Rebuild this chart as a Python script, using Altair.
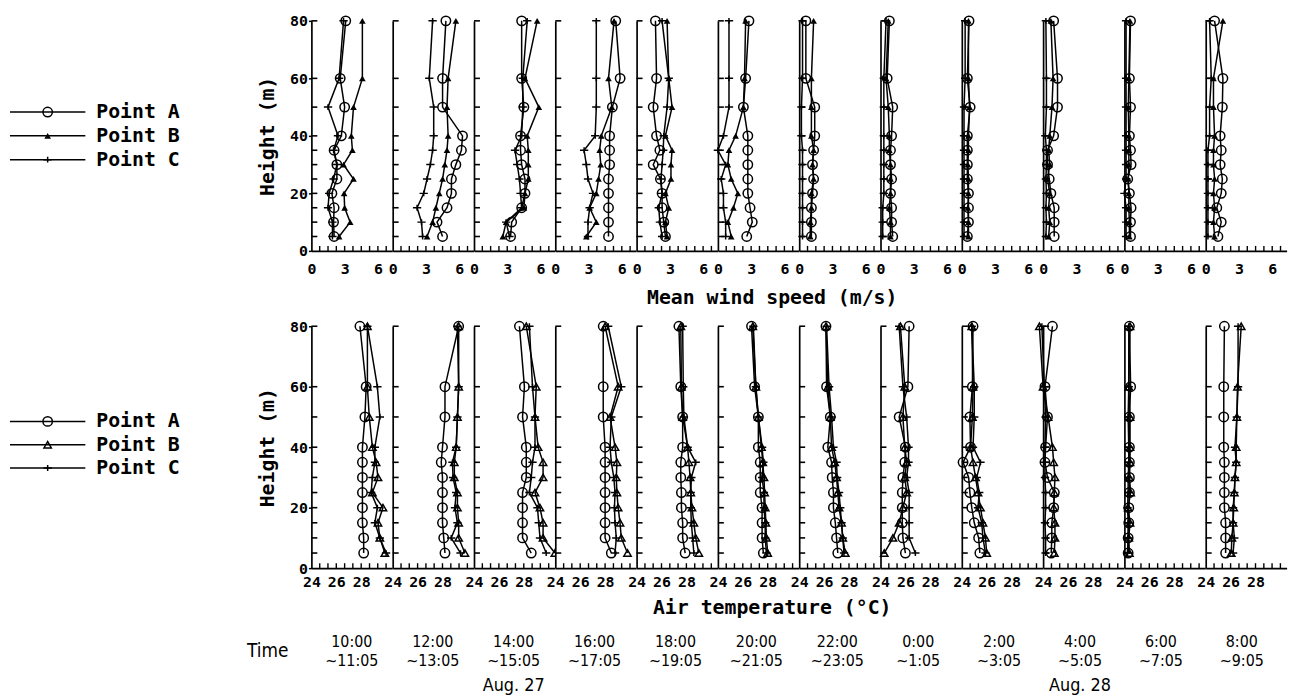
import altair as alt
import pandas as pd

FONT = "DejaVu Sans Mono"
TFONT = "Liberation Sans Narrow, DejaVu Sans Condensed, Liberation Sans, sans-serif"

heights = [5, 10, 15, 20, 25, 30, 35, 40, 50, 60, 80]
tick_heights = [5, 10, 15, 20, 25, 30, 35, 40, 50, 60, 80]
times = ["10:00", "12:00", "14:00", "16:00", "18:00", "20:00",
         "22:00", "0:00", "2:00", "4:00", "6:00", "8:00"]
ends = ["~11:05", "~13:05", "~15:05", "~17:05", "~19:05", "~21:05",
        "~23:05", "~1:05", "~3:05", "~5:05", "~7:05", "~9:05"]
date_at = ["14:00", "4:00"]
dates = ["Aug. 27", "Aug. 28"]
points = ["Point A", "Point B", "Point C"]

wind_labels = [0, 3, 6]
wind_minor = [0.75, 1.5, 2.25, 3, 3.75, 4.5, 5.25, 6, 6.75]
temp_labels = [24, 26, 28]
temp_minor = [24.67, 25.33, 26, 26.67, 27.33, 28, 28.67, 29.33, 30]

# mean wind speed (m/s), one list per time, heights 5..80 m
wind_a = [
    [2.05, 2.0, 2.05, 1.85, 2.3, 2.3, 2.05, 2.7, 3.0, 2.6, 3.1],
    [4.5, 4.0, 4.9, 5.3, 5.3, 5.7, 6.2, 6.3, 4.5, 4.5, 4.8],
    [3.3, 3.4, 4.3, 4.6, 4.6, 4.3, 4.2, 4.2, 4.5, 4.3, 4.3],
    [4.8, 4.8, 4.8, 4.8, 4.8, 4.9, 4.9, 4.9, 5.15, 5.85, 5.45],
    [2.6, 2.45, 2.3, 2.3, 2.15, 1.5, 2.1, 1.8, 1.5, 1.8, 1.7],
    [2.6, 3.1, 2.9, 2.7, 2.7, 2.7, 2.7, 2.7, 2.3, 2.5, 2.8],
    [1.1, 1.1, 1.1, 1.2, 1.3, 1.2, 1.3, 1.4, 1.4, 0.6, 0.6],
    [1.1, 1.0, 1.0, 0.9, 1.0, 0.9, 0.9, 1.0, 1.1, 0.6, 0.8],
    [0.5, 0.6, 0.6, 0.6, 0.5, 0.5, 0.5, 0.5, 0.75, 0.5, 0.65],
    [1.0, 1.0, 1.0, 0.7, 0.55, 0.4, 0.4, 0.95, 1.3, 1.3, 0.95],
    [0.55, 0.55, 0.6, 0.45, 0.3, 0.6, 0.55, 0.45, 0.55, 0.45, 0.55],
    [1.1, 1.4, 1.0, 1.4, 1.5, 1.3, 1.4, 1.3, 1.5, 1.55, 0.8],
]
wind_b = [
    [2.5, 3.5, 3.0, 2.95, 3.8, 2.9, 3.7, 3.6, 3.8, 4.6, 4.6],
    [3.1, 3.6, 3.9, 4.2, 4.5, 4.7, 4.9, 5.0, 4.9, 5.0, 5.7],
    [2.6, 2.9, 4.5, 4.6, 4.9, 4.9, 4.9, 4.8, 5.85, 4.6, 5.7],
    [2.8, 3.7, 3.1, 3.7, 3.9, 4.1, 4.0, 4.15, 5.1, 4.8, 5.3],
    [2.75, 2.6, 2.9, 2.6, 3.1, 3.1, 3.2, 2.6, 3.2, 2.9, 2.75],
    [1.2, 0.9, 1.4, 1.8, 1.2, 0.9, 1.0, 1.6, 2.3, 2.4, 2.5],
    [1.0, 1.0, 1.1, 1.1, 1.3, 1.2, 1.3, 1.1, 1.1, 1.1, 1.3],
    [0.9, 0.9, 0.8, 0.9, 0.9, 0.9, 0.8, 0.8, 0.7, 0.5, 0.7],
    [0.6, 0.6, 0.55, 0.6, 0.6, 0.55, 0.6, 0.6, 0.7, 0.6, 0.6],
    [0.5, 0.6, 0.5, 0.6, 0.4, 0.6, 0.5, 0.6, 0.8, 0.9, 0.7],
    [0.45, 0.45, 0.4, 0.4, 0.35, 0.4, 0.4, 0.4, 0.35, 0.4, 0.5],
    [0.8, 0.7, 0.8, 0.7, 0.8, 0.7, 0.7, 0.8, 0.7, 0.7, 1.55],
]
wind_c = [
    [1.9, 1.9, 1.5, 1.6, 2.0, 2.3, 2.0, 2.4, 1.5, 2.5, 2.9],
    [2.7, 2.6, 2.2, 2.8, 3.1, 3.4, 3.6, 3.7, 3.7, 3.3, 3.6],
    [3.2, 2.9, 4.3, 4.2, 4.1, 3.9, 3.7, 4.3, 4.4, 4.4, 4.8],
    [2.95, 2.95, 3.1, 3.4, 2.95, 2.8, 2.6, 3.6, 3.7, 3.7, 3.7],
    [2.3, 2.1, 2.0, 2.3, 2.2, 2.3, 2.4, 2.45, 2.75, 2.9, 2.3],
    [0.7, 0.7, 0.5, 0.5, 0.3, 0.7, 0.0, 0.5, 1.0, 1.0, 1.0],
    [0.3, 0.3, 0.3, 0.3, 0.3, 0.3, 0.3, 0.2, 0.2, 0.3, 0.3],
    [0.2, 0.2, 0.2, 0.3, 0.3, 0.3, 0.3, 0.3, 0.3, 0.3, 0.5],
    [0.2, 0.2, 0.2, 0.2, 0.2, 0.2, 0.2, 0.2, 0.2, 0.3, 0.3],
    [0.25, 0.3, 0.25, 0.3, 0.25, 0.3, 0.3, 0.2, 0.3, 0.3, 0.25],
    [0.15, 0.15, 0.15, 0.0, 0.15, 0.15, 0.15, 0.15, 0.15, 0.15, 0.15],
    [0.2, 0.2, 0.2, 0.2, 0.2, 0.2, 0.2, 0.35, 0.35, 0.5, 0.35],
]

# air temperature (deg C), one list per time, heights 5..80 m
temp_a = [
    [28.2, 28.2, 28.1, 28.1, 28.1, 28.1, 28.1, 28.1, 28.3, 28.4, 27.9],
    [28.2, 28.1, 28.0, 28.0, 28.0, 28.0, 27.9, 28.0, 28.2, 28.2, 29.3],
    [28.6, 27.9, 27.9, 27.9, 27.9, 28.2, 28.2, 28.2, 27.9, 28.05, 27.65],
    [28.5, 28.0, 28.0, 28.0, 28.0, 28.0, 28.0, 28.0, 27.85, 27.85, 27.85],
    [27.9, 27.7, 27.7, 27.6, 27.6, 27.55, 27.55, 27.7, 27.7, 27.55, 27.4],
    [27.65, 27.55, 27.55, 27.55, 27.4, 27.4, 27.4, 27.25, 27.25, 26.95, 26.7],
    [27.1, 27.0, 26.9, 26.75, 26.75, 26.65, 26.6, 26.3, 26.5, 26.2, 26.15],
    [26.0, 25.8, 25.75, 25.75, 25.75, 25.8, 25.95, 26.0, 25.5, 26.2, 26.3],
    [25.45, 25.35, 25.0, 24.8, 24.65, 24.55, 24.1, 24.7, 24.65, 24.85, 24.9],
    [24.65, 24.7, 24.7, 24.85, 24.9, 24.35, 24.15, 24.2, 24.35, 24.15, 24.75],
    [24.3, 24.3, 24.35, 24.35, 24.4, 24.4, 24.4, 24.4, 24.4, 24.5, 24.4],
    [25.6, 25.6, 25.6, 25.5, 25.5, 25.5, 25.5, 25.45, 25.45, 25.45, 25.5],
]
temp_b = [
    [29.9, 29.5, 29.35, 29.75, 28.9, 29.35, 29.2, 28.9, 28.65, 28.5, 28.5],
    [29.8, 29.3, 29.3, 29.2, 29.2, 28.95, 28.95, 29.1, 29.2, 29.3, 29.3],
    [30.5, 29.55, 29.55, 29.3, 28.9, 29.55, 29.55, 29.15, 28.9, 29.0, 28.2],
    [29.8, 29.3, 29.2, 29.05, 28.95, 28.9, 28.95, 28.8, 28.4, 29.05, 28.0],
    [29.0, 28.75, 28.6, 28.45, 28.35, 28.3, 28.2, 28.1, 27.7, 27.6, 27.55],
    [28.0, 27.9, 27.85, 27.8, 27.75, 27.7, 27.6, 27.5, 27.25, 27.05, 26.8],
    [27.7, 27.5, 27.4, 27.2, 27.1, 27.0, 26.85, 26.6, 26.5, 26.3, 26.15],
    [24.3, 25.0, 25.5, 25.8, 26.1, 25.95, 26.1, 25.95, 25.8, 25.95, 25.6],
    [26.0, 25.9, 25.7, 25.5, 25.3, 25.1, 24.9, 24.7, 24.85, 24.9, 24.8],
    [24.9, 24.95, 24.95, 24.85, 24.9, 24.95, 24.85, 24.75, 24.4, 24.0, 23.7],
    [24.4, 24.35, 24.45, 24.3, 24.5, 24.4, 24.45, 24.45, 24.45, 24.35, 24.45],
    [26.05, 26.1, 26.2, 26.25, 26.3, 26.35, 26.45, 26.45, 26.5, 26.55, 26.85],
]
temp_c = [
    [30.0, 29.5, 29.1, 29.3, 28.8, 28.9, 29.1, 29.1, 29.5, 29.3, 28.5],
    [29.45, 28.7, 29.2, 29.0, 29.1, 28.85, 28.8, 29.1, 29.2, 29.3, 29.2],
    [29.8, 29.3, 29.2, 29.1, 28.45, 28.6, 28.7, 28.9, 28.9, 28.7, 28.45],
    [28.8, 28.9, 28.8, 28.75, 28.8, 28.7, 28.5, 28.4, 28.5, 29.3, 28.25],
    [28.6, 28.5, 28.4, 28.35, 28.35, 28.4, 28.75, 28.1, 27.8, 27.75, 27.7],
    [27.9, 27.8, 27.8, 27.7, 27.7, 27.55, 27.65, 27.55, 27.25, 27.05, 26.85],
    [27.6, 27.5, 27.4, 27.3, 27.2, 27.05, 27.0, 26.75, 26.6, 26.4, 26.2],
    [26.8, 26.3, 26.3, 26.3, 26.3, 26.1, 26.25, 26.25, 26.1, 25.8, 25.5],
    [25.9, 25.7, 25.6, 25.3, 25.4, 25.2, 25.5, 24.9, 25.0, 25.0, 24.8],
    [24.2, 24.2, 24.15, 24.2, 24.2, 24.15, 24.15, 24.15, 24.2, 24.1, 23.9],
    [24.25, 24.3, 24.3, 24.25, 24.3, 24.3, 24.35, 24.35, 24.3, 24.35, 24.35],
    [26.2, 26.3, 26.2, 26.2, 26.3, 26.35, 26.45, 26.35, 26.5, 26.6, 26.6],
]

records = []
for ti, t in enumerate(times):
    series = [(points[0], wind_a[ti], temp_a[ti]),
              (points[1], wind_b[ti], temp_b[ti]),
              (points[2], wind_c[ti], temp_c[ti])]
    for pname, wl, tl in series:
        for h, wv, tv in zip(heights, wl, tl):
            records.append({"time": t, "point": pname, "height": h,
                            "wind": wv, "temp": tv})
df = pd.DataFrame(records)

PW = 81.6
H_TOP = 232
H_BOT = 244
LEFT_W = 306
PLUS = "M-1,0H1M0,-0.7V0.7"
LW = 1.5
NOVIEW = alt.ViewBackground(stroke="transparent", strokeWidth=0, fill="white")


def panel(ti, top):
    sub = df[df.time == times[ti]]
    field = "wind" if top else "temp"
    dom = [0, 7.3] if top else [24, 30.5]
    H = H_TOP if top else H_BOT
    labels = wind_labels if top else temp_labels
    minor = wind_minor if top else temp_minor
    xscale = alt.Scale(domain=dom, nice=False, zero=False)
    yscale = alt.Scale(domain=[0, 80], nice=False)
    if ti == 0:
        yaxis = alt.Axis(values=[0, 20, 40, 60, 80], title="Height (m)",
                         titleFont=FONT, titleFontSize=20, titleFontWeight="bold",
                         titleColor="black", titlePadding=12,
                         labelFont=FONT, labelFontSize=15, labelFontWeight="bold",
                         labelColor="black", labelPadding=1,
                         tickSize=3, tickColor="black", tickWidth=1.5,
                         domainColor="black", domainWidth=1.7, grid=False)
    else:
        yaxis = alt.Axis(labels=False, ticks=False, title=None,
                         domainColor="black", domainWidth=1.7, grid=False)
    xaxis = alt.Axis(values=labels, format="d", title=None, ticks=False,
                     labelPadding=11 if top else 7, labelFont=FONT, labelFontSize=15,
                     labelFontWeight="bold", labelColor="black",
                     labelFlush=False, labelOverlap=False,
                     domainColor="black", domainWidth=1.7, grid=False)
    X = alt.X(f"{field}:Q", scale=xscale, axis=xaxis)
    Y = alt.Y("height:Q", scale=yscale, axis=yaxis)
    base = alt.Chart(sub)

    yt = alt.Chart(pd.DataFrame({"height": tick_heights})).mark_rule(
        color="black", strokeWidth=1.6).encode(
        y=Y, x=alt.value(0), x2=alt.value(6))
    xt = alt.Chart(pd.DataFrame({field: minor})).mark_rule(
        color="black", strokeWidth=1.4).encode(
        x=X, y=alt.value(H), y2=alt.value(H - 5))
    lines = base.mark_line(color="black", strokeWidth=LW).encode(
        x=X, y=Y, detail="point:N", order=alt.Order("height:Q"))
    pa = base.transform_filter(alt.datum.point == points[0]).mark_point(
        shape="circle", filled=False, size=90, color="black",
        strokeWidth=LW, opacity=1).encode(x=X, y=Y)
    pb = base.transform_filter(alt.datum.point == points[1]).mark_point(
        shape="triangle-up", filled=top, size=45 if top else 55, color="black",
        strokeWidth=LW, opacity=1).encode(x=X, y=Y)
    pc = base.transform_filter(alt.datum.point == points[2]).mark_point(
        shape=PLUS, filled=False, size=70, color="black",
        strokeWidth=LW, opacity=1).encode(x=X, y=Y)
    return alt.layer(yt, xt, lines, pa, pb, pc).properties(
        width=PW, height=H, view=NOVIEW)


def legend_chart(top):
    H = H_TOP if top else H_BOT
    ld = pd.DataFrame({"point": points})
    rng = [92, 140] if top else [96, 143]
    ys = alt.Scale(type="point", domain=points, range=rng, padding=0)
    Y = alt.Y("point:N", scale=ys, axis=None)
    base = alt.Chart(ld)
    rule = base.mark_rule(color="black", strokeWidth=LW).encode(
        y=Y, x=alt.value(2), x2=alt.value(78))
    ma = base.transform_filter(alt.datum.point == points[0]).mark_point(
        shape="circle", filled=False, size=90, color="black", strokeWidth=LW,
        opacity=1).encode(y=Y, x=alt.value(40))
    mb = base.transform_filter(alt.datum.point == points[1]).mark_point(
        shape="triangle-up", filled=top, size=45 if top else 55, color="black",
        strokeWidth=LW, opacity=1).encode(y=Y, x=alt.value(40))
    mc = base.transform_filter(alt.datum.point == points[2]).mark_point(
        shape=PLUS, filled=False, size=70, color="black", strokeWidth=LW,
        opacity=1).encode(y=Y, x=alt.value(40))
    txt = base.mark_text(align="left", baseline="middle", font=FONT,
                         fontSize=20, fontWeight="bold", color="black").encode(
        y=Y, x=alt.value(89), text="point:N")
    return alt.layer(rule, ma, mb, mc, txt).properties(
        width=LEFT_W, height=H, view=NOVIEW)


def row(top, title):
    panels = alt.hconcat(*[panel(i, top) for i in range(12)], spacing=0,
                         bounds="flush").properties(
        title=alt.TitleParams(title, orient="bottom", anchor="middle", font=FONT,
                              fontSize=20, fontWeight="bold", color="black",
                              offset=12 if top else 8))
    return alt.hconcat(legend_chart(top), panels, spacing=0, bounds="flush")


top_row = row(True, "Mean wind speed (m/s)")
bot_row = row(False, "Air temperature (°C)")

tdf = pd.DataFrame({"t": times, "e": ends})
ddf = pd.DataFrame({"t": date_at, "d": dates})
xs = alt.Scale(type="point", domain=times, padding=0.5)
TX = alt.X("t:N", scale=xs, axis=None)
l1 = alt.Chart(tdf).mark_text(font=TFONT, fontSize=16, baseline="middle",
                              color="black").encode(x=TX, y=alt.value(15), text="t:N")
l2 = alt.Chart(tdf).mark_text(font=TFONT, fontSize=16, baseline="middle",
                              color="black").encode(x=TX, y=alt.value(34), text="e:N")
l3 = alt.Chart(ddf).mark_text(font=TFONT, fontSize=18, baseline="middle",
                              color="black").encode(x=TX, y=alt.value(59), text="d:N")
time_chart = alt.layer(l1, l2, l3).properties(width=12 * PW, height=60, view=NOVIEW)
time_left = alt.Chart(pd.DataFrame({"w": ["Time"]})).mark_text(
    font=TFONT, fontSize=19, baseline="middle", align="center",
    color="black").encode(x=alt.value(262), y=alt.value(24), text="w:N").properties(
    width=LEFT_W, height=60, view=NOVIEW)
time_row = alt.hconcat(time_left, time_chart, spacing=0, bounds="flush")

chart = alt.vconcat(top_row, bot_row, time_row, spacing=10).properties(
    padding={"left": 0, "top": 2, "right": 2, "bottom": 0}
).configure_view(stroke="transparent", strokeWidth=0).configure(background="white")

chart.save("out.html", embed_options={"renderer": "svg", "actions": False})
